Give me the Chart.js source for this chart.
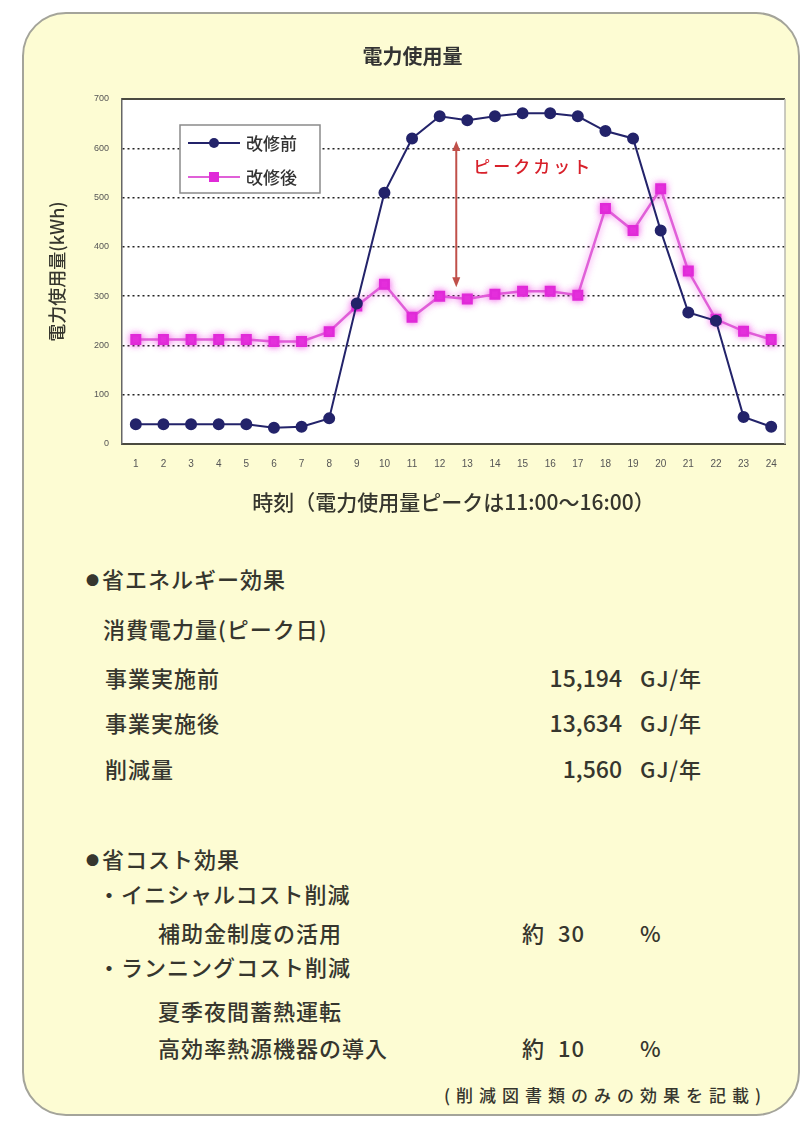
<!DOCTYPE html>
<html lang="ja">
<head>
<meta charset="utf-8">
<title>電力使用量</title>
<script src="https://cdn.jsdelivr.net/npm/chart.js@4.4.1/dist/chart.umd.min.js"></script>
<style>
    html, body { margin: 0; padding: 0; background: #ffffff; }
    body { width: 807px; height: 1123px; position: relative; overflow: hidden;
           font-family: "Noto Sans CJK JP", "Noto Sans", sans-serif; color: #36362e; }
    #panel { position: absolute; left: 22px; top: 12px; width: 774px; height: 1100px;
             background: #fdfcd3; border: 2px solid #a4a49a; border-radius: 44px; }
    #chartWrap { position: absolute; left: 0; top: 0; width: 807px; height: 530px; }
    .t { position: absolute; font-size: 22px; line-height: 26px; white-space: nowrap; letter-spacing: 1px; font-weight: 500; }
    .num { position: absolute; font-size: 23px; line-height: 26px; white-space: nowrap; text-align: right; width: 120px; font-weight: 500; }
    .dot { font-size: 13px; vertical-align: 3px; margin-right: 2px; }
    .note { position: absolute; font-size: 17px; line-height: 20px; white-space: nowrap; letter-spacing: 6px; font-weight: 500; }
</style>
</head>
<body>
<div id="panel"></div>
<div id="chartWrap"><canvas id="powerChart" width="807" height="530"></canvas></div>

<div class="t" style="left:86px; top:565px;"><span class="dot">●</span>省エネルギー効果</div>
<div class="t" style="left:103px; top:615px;">消費電力量(ピーク日)</div>
<div class="t" style="left:105px; top:664px;">事業実施前</div>
<div class="num" style="left:502px; top:664px;">15,194</div>
<div class="t" style="left:640px; top:664px;">GJ/年</div>
<div class="t" style="left:105px; top:709px;">事業実施後</div>
<div class="num" style="left:502px; top:709px;">13,634</div>
<div class="t" style="left:640px; top:709px;">GJ/年</div>
<div class="t" style="left:105px; top:755px;">削減量</div>
<div class="num" style="left:502px; top:755px;">1,560</div>
<div class="t" style="left:640px; top:755px;">GJ/年</div>

<div class="t" style="left:86px; top:845px;"><span class="dot">●</span>省コスト効果</div>
<div class="t" style="left:98px; top:880px;">・イニシャルコスト削減</div>
<div class="t" style="left:158px; top:919px;">補助金制度の活用</div>
<div class="t" style="left:522px; top:919px;">約</div>
<div class="t" style="left:558px; top:919px;">30</div>
<div class="t" style="left:640px; top:919px;">%</div>
<div class="t" style="left:98px; top:953px;">・ランニングコスト削減</div>
<div class="t" style="left:158px; top:997px;">夏季夜間蓄熱運転</div>
<div class="t" style="left:158px; top:1034px;">高効率熱源機器の導入</div>
<div class="t" style="left:522px; top:1034px;">約</div>
<div class="t" style="left:558px; top:1034px;">10</div>
<div class="t" style="left:640px; top:1034px;">%</div>
<div class="note" style="left:444px; top:1085px;">(削減図書類のみの効果を記載)</div>

<script>
// 時刻ごとの電力使用量 (kWh)
const hours = ['1', '2', '3', '4', '5', '6', '7', '8', '9', '10', '11', '12',
    '13', '14', '15', '16', '17', '18', '19', '20', '21', '22', '23', '24'];
const beforeKwh = [40, 40, 40, 40, 40, 33, 35, 52, 285, 510, 620, 665,
    657, 665, 671, 671, 665, 635, 620, 433, 267, 250, 55, 35];
const afterKwh = [212, 212, 212, 212, 212, 208, 208, 228, 280, 324, 257, 300,
    294, 304, 310, 310, 302, 478, 433, 518, 351, 253, 229, 212];
const seriesNames = ['改修前', '改修後'];
const yTicks = [0, 100, 200, 300, 400, 500, 600, 700];

// ピークカットの矢印 (位置は時刻インデックスと値)
const peakCutX = 11.6;
const peakCutFrom = 615;
const peakCutTo = 318;
const peakCutLabel = 'ピークカット';

const navy = '#23236a';
const pink = '#e02ad8';

// グラフ領域を白で塗り、枠線を引く
const plotBackground = {
    id: 'plotBackground',
    beforeDraw(chart) {
        const { ctx, chartArea: a } = chart;
        ctx.save();
        ctx.fillStyle = '#ffffff';
        ctx.fillRect(a.left, a.top, a.right - a.left, a.bottom - a.top);
        ctx.restore();
    },
    afterDraw(chart) {
        const { ctx, chartArea: a } = chart;
        ctx.save();
        ctx.strokeStyle = '#4a4a40';
        ctx.lineWidth = 2;
        ctx.beginPath();
        ctx.moveTo(a.left, a.top);
        ctx.lineTo(a.right, a.top);
        ctx.stroke();
        ctx.strokeStyle = '#b8b8b0';
        ctx.lineWidth = 1.5;
        ctx.beginPath();
        ctx.moveTo(a.right, a.top);
        ctx.lineTo(a.right, a.bottom);
        ctx.stroke();
        ctx.restore();
    }
};

// 改修後の線は少しにじませる
const pinkGlow = {
    id: 'pinkGlow',
    beforeDatasetDraw(chart, args) {
        if (args.index === 1) {
            chart.ctx.save();
            chart.ctx.shadowColor = 'rgba(240, 60, 230, 0.7)';
            chart.ctx.shadowBlur = 7;
        }
    },
    afterDatasetDraw(chart, args) {
        if (args.index === 1) chart.ctx.restore();
    }
};

// 凡例の枠とピークカット矢印
const overlay = {
    id: 'overlay',
    afterDatasetsDraw(chart) {
        const { ctx, scales } = chart;
        const x = scales.x, y = scales.y;

        // 矢印
        const ax = x.getPixelForValue(peakCutX);
        const y1 = y.getPixelForValue(peakCutFrom);
        const y2 = y.getPixelForValue(peakCutTo);
        ctx.save();
        ctx.strokeStyle = '#c0504a';
        ctx.fillStyle = '#c0504a';
        ctx.lineWidth = 2;
        ctx.beginPath();
        ctx.moveTo(ax, y1 + 6);
        ctx.lineTo(ax, y2 - 6);
        ctx.stroke();
        [[y1, 1], [y2, -1]].forEach(([py, dir]) => {
            ctx.beginPath();
            ctx.moveTo(ax, py);
            ctx.lineTo(ax - 4, py + dir * 10);
            ctx.lineTo(ax + 4, py + dir * 10);
            ctx.closePath();
            ctx.fill();
        });
        ctx.fillStyle = '#d8202a';
        ctx.font = '500 17px "Noto Sans CJK JP"';
        ctx.letterSpacing = '3px';
        ctx.textBaseline = 'middle';
        ctx.fillText(peakCutLabel, ax + 17, y.getPixelForValue(562));
        ctx.restore();

        // 凡例
        const bx = 180, by = 125, bw = 140, bh = 68;
        ctx.save();
        ctx.fillStyle = '#ffffff';
        ctx.fillRect(bx, by, bw, bh);
        ctx.strokeStyle = '#8a8a8a';
        ctx.lineWidth = 1.5;
        ctx.strokeRect(bx, by, bw, bh);
        chart.data.datasets.forEach((ds, i) => {
            const ly = by + 18 + i * 34;
            ctx.strokeStyle = ds.borderColor;
            ctx.lineWidth = 2;
            ctx.beginPath();
            ctx.moveTo(bx + 8, ly);
            ctx.lineTo(bx + 60, ly);
            ctx.stroke();
            ctx.fillStyle = ds.pointBackgroundColor;
            if (ds.pointStyle === 'rect') {
                ctx.fillRect(bx + 29, ly - 5, 10, 10);
            } else {
                ctx.beginPath();
                ctx.arc(bx + 34, ly, 5, 0, Math.PI * 2);
                ctx.fill();
            }
            ctx.fillStyle = '#333333';
            ctx.font = '500 17px "Noto Sans CJK JP"';
            ctx.textBaseline = 'middle';
            ctx.fillText(ds.label, bx + 66, ly + 1);
        });
        ctx.restore();
    }
};

new Chart(document.getElementById('powerChart').getContext('2d'), {
    type: 'line',
    data: {
        labels: hours,
        datasets: [{
            label: seriesNames[0],
            data: beforeKwh,
            borderColor: navy,
            backgroundColor: navy,
            pointBackgroundColor: navy,
            pointBorderColor: navy,
            pointStyle: 'circle',
            pointRadius: 5,
            borderWidth: 2,
            tension: 0
        }, {
            label: seriesNames[1],
            data: afterKwh,
            borderColor: '#e060d8',
            backgroundColor: pink,
            pointBackgroundColor: pink,
            pointBorderColor: pink,
            pointStyle: 'rect',
            pointRadius: 6,
            borderWidth: 2.5,
            tension: 0
        }]
    },
    options: {
        responsive: false,
        animation: false,
        layout: { padding: { left: 40, right: 22, top: 0, bottom: 12 } },
        plugins: {
            legend: { display: false },
            tooltip: { enabled: false },
            title: {
                display: true,
                text: '電力使用量',
                color: '#333333',
                font: { family: '"Noto Sans CJK JP"', size: 20, weight: 'bold' },
                padding: { top: 44, bottom: 31 }
            }
        },
        scales: {
            x: {
                offset: true,
                grid: { display: false, drawTicks: false },
                border: { color: '#4a4a40', width: 2 },
                ticks: { color: '#555555', font: { size: 10 }, padding: 14, maxRotation: 0, autoSkip: false },
                title: {
                    display: true,
                    text: '時刻（電力使用量ピークは11:00～16:00）',
                    color: '#36362e',
                    font: { family: '"Noto Sans CJK JP"', size: 21, weight: '500' },
                    padding: { top: 0, bottom: 3 }
                },
                afterFit(scale) { scale.height = 74; }
            },
            y: {
                min: 0,
                max: 700,
                afterBuildTicks(scale) { scale.ticks = yTicks.map(v => ({ value: v })); },
                grid: {
                    color: '#222222',
                    lineWidth: 1.5,
                    drawTicks: false
                },
                border: { color: '#666666', width: 1.5, dash: [2, 3] },
                ticks: { color: '#555555', font: { size: 9 }, padding: 13 },
                title: {
                    display: true,
                    text: '電力使用量(kWh)',
                    color: '#36362e',
                    font: { family: '"Noto Sans CJK JP"', size: 18, weight: '500' },
                    padding: { top: 6, bottom: 0 }
                },
                afterFit(scale) { scale.width = 82; }
            }
        }
    },
    plugins: [plotBackground, pinkGlow, overlay]
});
</script>
</body>
</html>
